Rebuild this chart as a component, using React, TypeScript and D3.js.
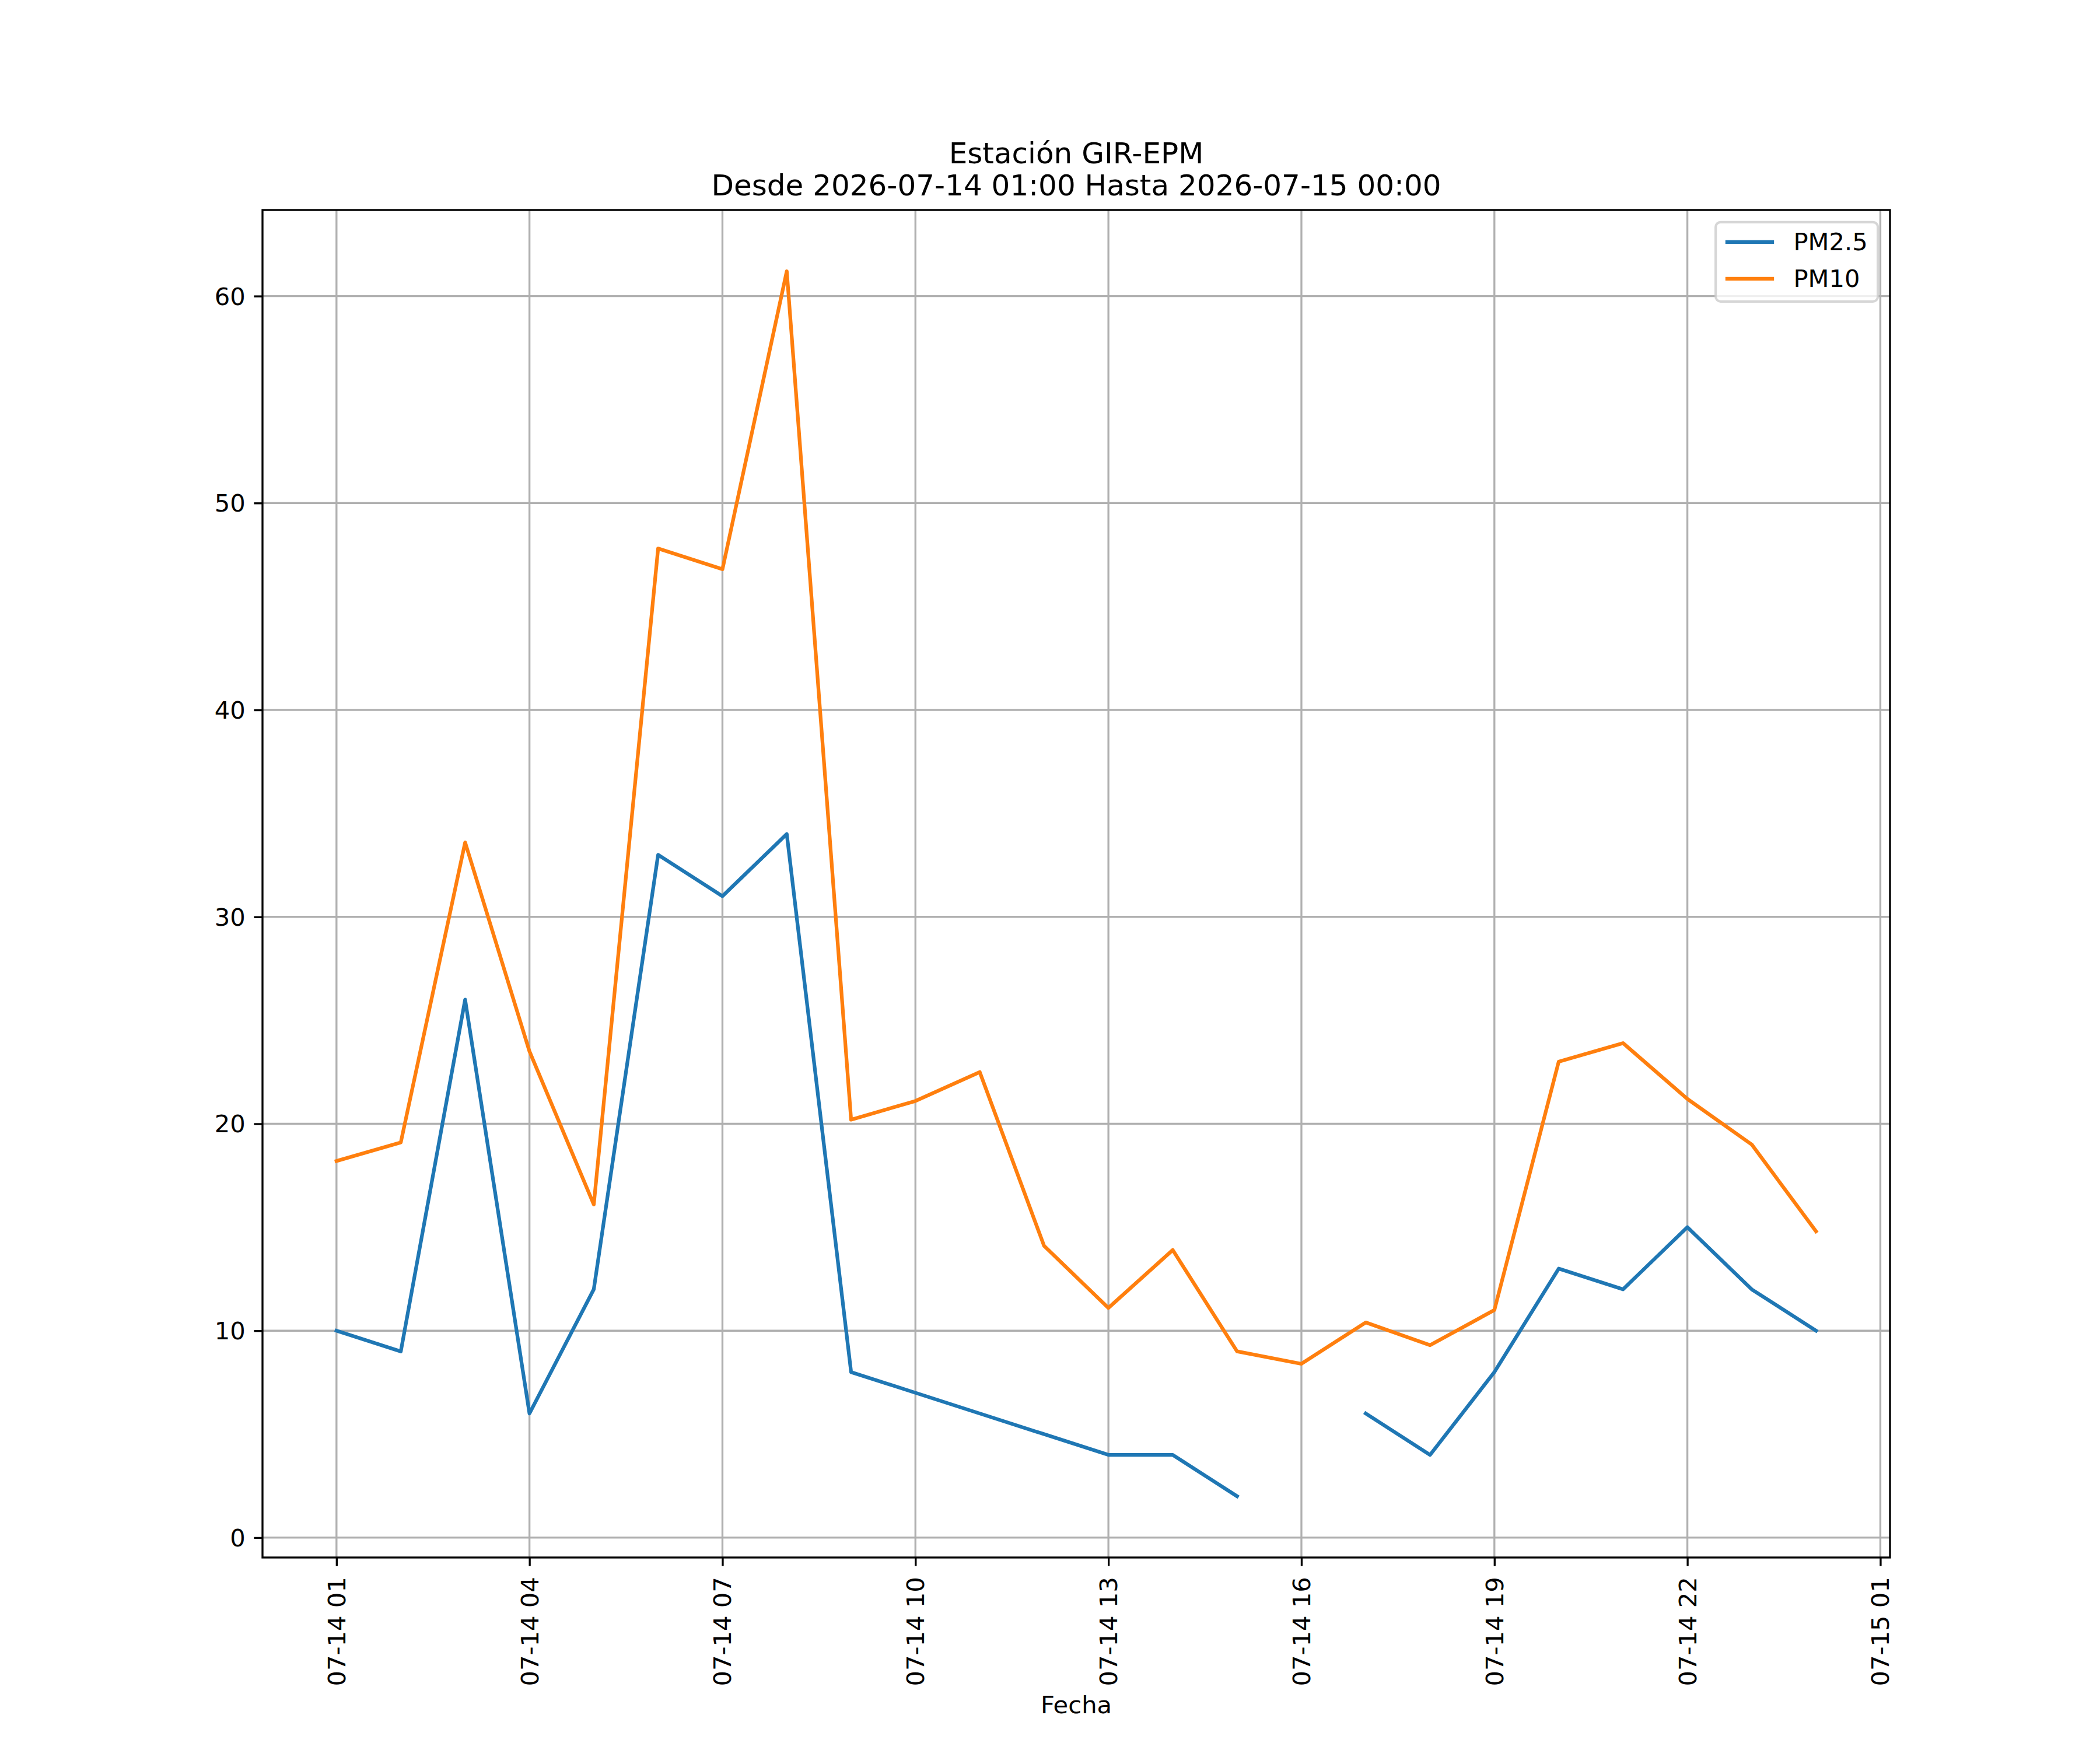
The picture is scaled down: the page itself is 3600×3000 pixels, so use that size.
import React, { useRef, useEffect } from 'react';
import * as d3 from 'd3';

// hourly readings, 2026-07-14 01:00 .. 2026-07-15 00:00
const horas = [1, 2, 3, 4, 5, 6, 7, 8, 9, 10, 11, 12, 13, 14, 15, 16, 17, 18, 19, 20, 21, 22, 23, 24];
const pm25: (number | null)[] = [10, 9, 26, 6, 12, 33, 31, 34, 8, 7, 6, 5, 4, 4, 2, null, 6, 4, 8, 13, 12, 15, 12, 10];
const pm10: (number | null)[] = [18.2, 19.1, 33.6, 23.5, 16.1, 47.8, 46.8, 61.2, 20.2, 21.1, 22.5, 14.1, 11.1, 13.9, 9.0, 8.4, 10.4, 9.3, 11.0, 23.0, 23.9, 21.2, 19.0, 14.8];
const series = [
  { name: 'PM2.5', values: pm25, color: '#1f77b4' },
  { name: 'PM10', values: pm10, color: '#ff7f0e' },
];
const yTicks = [0, 10, 20, 30, 40, 50, 60];
const titulo = ['Estación GIR-EPM', 'Desde 2026-07-14 01:00 Hasta 2026-07-15 00:00'];
const xLabel = 'Fecha';

interface Punto {
  date: Date;
  value: number | null;
}

const App: React.FC = () => {
  const svgRef = useRef<SVGSVGElement>(null);

  // figure 12x10 in @ 300 dpi, default subplot params
  const width = 3600;
  const height = 3000;
  const marginLeft = 450;
  const marginRight = 360;
  const marginTop = 360;
  const marginBottom = 330;
  const pt = 300 / 72;
  const font = 'DejaVu Sans, sans-serif';

  useEffect(() => {
    document.body.style.margin = '0';
    if (!svgRef.current) return;

    const svg = d3.select(svgRef.current);
    svg.selectAll('*').remove();

    const fechas = horas.map((h) => new Date(2026, 6, 14, h));
    const t0 = fechas[0].getTime();
    const t1 = fechas[fechas.length - 1].getTime();
    const padX = (t1 - t0) * 0.05;

    const x = d3.scaleTime()
      .domain([new Date(t0 - padX), new Date(t1 + padX)])
      .range([marginLeft, width - marginRight]);

    const all = [...pm25, ...pm10].filter((v): v is number => v !== null);
    const yMin = d3.min(all)!;
    const yMax = d3.max(all)!;
    const padY = (yMax - yMin) * 0.05;
    const y = d3.scaleLinear()
      .domain([yMin - padY, yMax + padY])
      .range([height - marginBottom, marginTop]);

    const xTicks = d3.timeHour.range(new Date(2026, 6, 14, 1), new Date(2026, 6, 15, 2), 3);
    const fmt = d3.timeFormat('%m-%d %H');

    // grid
    const grid = svg.append('g');
    grid.selectAll('.gx')
      .data(xTicks)
      .join('line')
      .attr('x1', (d) => x(d)).attr('x2', (d) => x(d))
      .attr('y1', marginTop).attr('y2', height - marginBottom)
      .attr('stroke', '#b0b0b0').attr('stroke-width', 0.8 * pt);
    grid.selectAll('.gy')
      .data(yTicks)
      .join('line')
      .attr('x1', marginLeft).attr('x2', width - marginRight)
      .attr('y1', (d) => y(d)).attr('y2', (d) => y(d))
      .attr('stroke', '#b0b0b0').attr('stroke-width', 0.8 * pt);

    // lines
    const line = d3.line<Punto>()
      .defined((d) => d.value !== null)
      .x((d) => x(d.date))
      .y((d) => y(d.value as number));

    series.forEach((s) => {
      const pts: Punto[] = fechas.map((d, i) => ({ date: d, value: s.values[i] }));
      svg.append('path')
        .attr('d', line(pts))
        .attr('fill', 'none')
        .attr('stroke', s.color)
        .attr('stroke-width', 1.5 * pt)
        .attr('stroke-linejoin', 'round')
        .attr('stroke-linecap', 'square');
    });

    // x axis
    const xAxis = svg.append('g')
      .attr('transform', `translate(0,${height - marginBottom})`)
      .call(d3.axisBottom(x).tickValues(xTicks).tickFormat((d) => fmt(d as Date)).tickSize(3.5 * pt).tickSizeOuter(0));
    xAxis.select('.domain').remove();
    xAxis.selectAll('line').attr('stroke', '#000').attr('stroke-width', 0.8 * pt);
    xAxis.selectAll('text')
      .attr('font-family', font)
      .attr('font-size', 10 * pt)
      .attr('fill', '#000')
      .attr('text-anchor', 'end')
      .attr('dy', null)
      .attr('dominant-baseline', 'central')
      .attr('transform', `translate(0,${3.5 * pt}) rotate(-90)`)
      .attr('y', 0)
      .attr('x', -3.5 * pt - 4);

    // y axis
    const yAxis = svg.append('g')
      .attr('transform', `translate(${marginLeft},0)`)
      .call(d3.axisLeft(y).tickValues(yTicks).tickSize(3.5 * pt).tickPadding(3.5 * pt).tickSizeOuter(0));
    yAxis.select('.domain').remove();
    yAxis.selectAll('line').attr('stroke', '#000').attr('stroke-width', 0.8 * pt);
    yAxis.selectAll('text')
      .attr('font-family', font)
      .attr('font-size', 10 * pt)
      .attr('fill', '#000')
      .attr('dy', null)
      .attr('dominant-baseline', 'central');

    // spines
    svg.append('rect')
      .attr('x', marginLeft).attr('y', marginTop)
      .attr('width', width - marginLeft - marginRight)
      .attr('height', height - marginTop - marginBottom)
      .attr('fill', 'none').attr('stroke', '#000').attr('stroke-width', 0.8 * pt);

    // title
    const cx = (marginLeft + width - marginRight) / 2;
    svg.append('g').selectAll('text')
      .data(titulo)
      .join('text')
      .attr('x', cx)
      .attr('y', (_, i) => marginTop - 6 * pt - (titulo.length - 1 - i) * 55)
      .attr('text-anchor', 'middle')
      .attr('font-family', font)
      .attr('font-size', 12 * pt)
      .attr('fill', '#000')
      .text((d) => d);

    // x label
    svg.append('text')
      .attr('x', cx)
      .attr('y', 2937)
      .attr('text-anchor', 'middle')
      .attr('font-family', font)
      .attr('font-size', 10 * pt)
      .attr('fill', '#000')
      .text(xLabel);

    // legend
    const fs = 10 * pt;
    const legRight = width - marginRight - 0.5 * fs;
    const legTop = marginTop + 0.5 * fs;
    const legW = 278;
    const legH = 136;
    const leg = svg.append('g').attr('transform', `translate(${legRight - legW},${legTop})`);
    leg.append('rect')
      .attr('width', legW).attr('height', legH)
      .attr('rx', 0.2 * fs).attr('ry', 0.2 * fs)
      .attr('fill', '#fff').attr('fill-opacity', 0.8)
      .attr('stroke', '#cccccc').attr('stroke-opacity', 0.8)
      .attr('stroke-width', 1 * pt);
    const rows = leg.selectAll('.row')
      .data(series)
      .join('g')
      .attr('transform', (_, i) => `translate(${0.4 * fs},${34 + i * 63})`);
    rows.append('line')
      .attr('x1', 0).attr('x2', 2 * fs)
      .attr('stroke', (d) => d.color)
      .attr('stroke-width', 1.5 * pt);
    rows.append('text')
      .attr('x', 2.8 * fs)
      .attr('dominant-baseline', 'central')
      .attr('font-family', font)
      .attr('font-size', fs)
      .attr('fill', '#000')
      .text((d) => d.name);
  }, []);

  return (
    <svg ref={svgRef} width={width} height={height} style={{ display: 'block', background: '#fff' }} />
  );
};

export default App;
